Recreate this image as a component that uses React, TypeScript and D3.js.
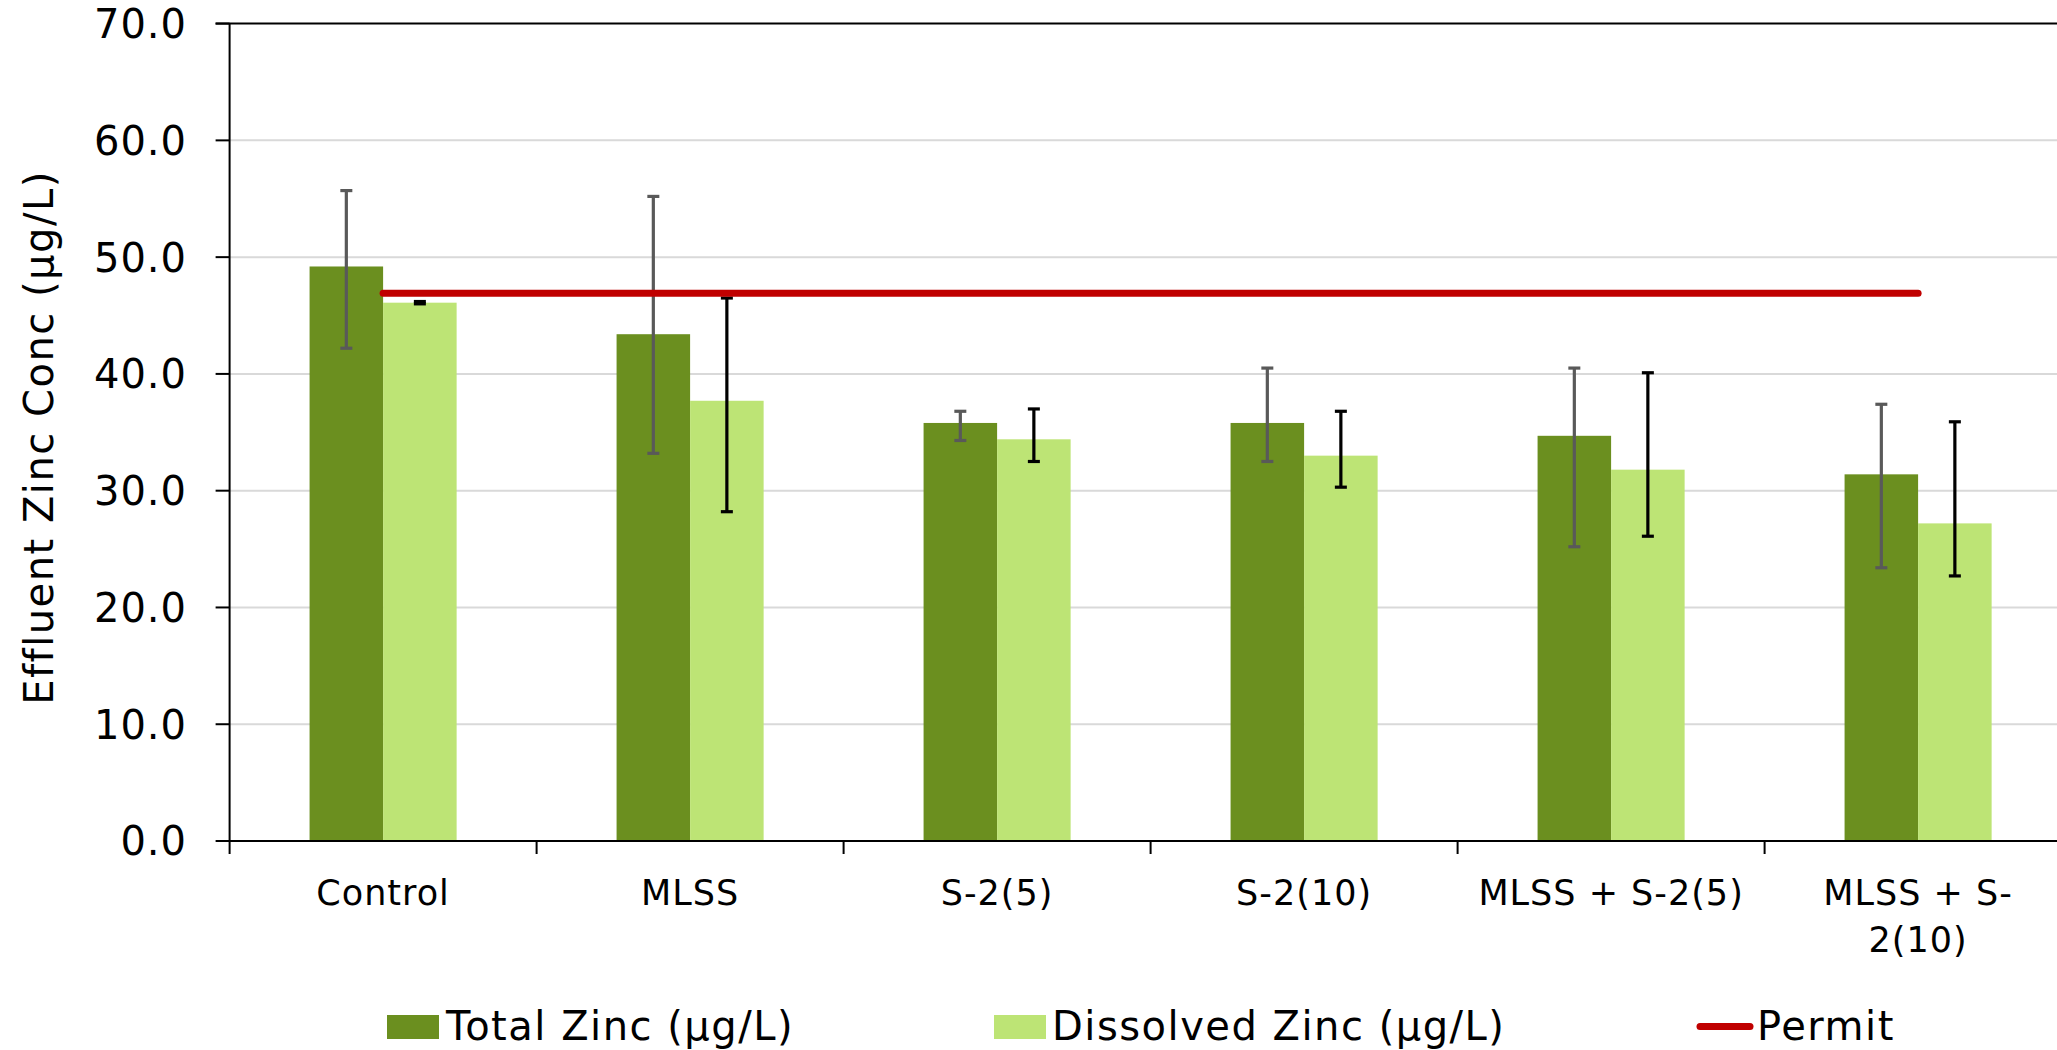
import * as d3 from 'd3';
import React from 'react';

// data
const categories = ['Control', 'MLSS', 'S-2(5)', 'S-2(10)', 'MLSS + S-2(5)', 'MLSS + S-2(10)'];
const categoryLines = [['Control'], ['MLSS'], ['S-2(5)'], ['S-2(10)'], ['MLSS + S-2(5)'], ['MLSS + S-', '2(10)']];

const totalZinc = [49.2, 43.4, 35.8, 35.8, 34.7, 31.4];
const totalHigh = [55.7, 55.2, 36.8, 40.5, 40.5, 37.4];
const totalLow = [42.2, 33.2, 34.3, 32.5, 25.2, 23.4];

const dissolvedZinc = [46.1, 37.7, 34.4, 33.0, 31.8, 27.2];
const dissolvedHigh = [46.2, 46.5, 37.0, 36.8, 40.1, 35.9];
const dissolvedLow = [46.0, 28.2, 32.5, 30.3, 26.1, 22.7];

const permit = [46.9, 46.9, 46.9, 46.9, 46.9, 46.9];

const yTicks = [0, 10, 20, 30, 40, 50, 60, 70];

const W = 2057;
const H = 1050;
const left = 229.6;
const top = 23.6;
const bottom = 841;
const step = 307;

const font = '"DejaVu Sans", Verdana, sans-serif';
const dark = '#6B8F1F';
const light = '#BDE475';
const red = '#C00000';

export default function App() {
  const x = d3.scaleBand()
    .domain(categories)
    .range([left, left + step * categories.length])
    .paddingInner(0.521)
    .paddingOuter(0.2605);
  const sub = d3.scaleBand()
    .domain(['total', 'dissolved'])
    .range([0, x.bandwidth()]);
  const y = d3.scaleLinear().domain([0, 70]).range([bottom, top]);
  const fmt = d3.format('.1f');

  const series = [
    { key: 'total', values: totalZinc, hi: totalHigh, lo: totalLow, fill: dark, err: '#595959' },
    { key: 'dissolved', values: dissolvedZinc, hi: dissolvedHigh, lo: dissolvedLow, fill: light, err: '#000000' },
  ];

  const permitLine = d3.line<number>()
    .x((_, i) => x(categories[i])! + x.bandwidth() / 2)
    .y(d => y(d));

  const boundaries = d3.range(categories.length + 1).map(i => left + i * x.step());

  return (
    <svg width={W} height={H} style={{ position: 'absolute', left: 0, top: 0, display: 'block', background: '#fff' }}
      fontFamily={font}>
      {/* gridlines */}
      {yTicks.filter(t => t > 0 && t < 70).map(t => (
        <line key={t} x1={left} x2={W} y1={y(t)} y2={y(t)} stroke="#D9D9D9" strokeWidth={2} />
      ))}
      <line x1={left - 14} x2={W} y1={y(70)} y2={y(70)} stroke="#000" strokeWidth={2} />

      {/* bars */}
      {series.map(s => (
        <g key={s.key}>
          {s.values.map((v, i) => (
            <rect key={i}
              x={x(categories[i])! + sub(s.key)!}
              y={y(v)}
              width={sub.bandwidth()}
              height={y(0) - y(v)}
              fill={s.fill} />
          ))}
        </g>
      ))}

      {/* error bars */}
      {series.map(s => (
        <g key={s.key + '-err'} stroke={s.err} strokeWidth={3.2}>
          {s.values.map((v, i) => {
            const cx = x(categories[i])! + sub(s.key)! + sub.bandwidth() / 2;
            return (
              <g key={i}>
                <line x1={cx} x2={cx} y1={y(s.hi[i])} y2={y(s.lo[i])} />
                <line x1={cx - 6} x2={cx + 6} y1={y(s.hi[i])} y2={y(s.hi[i])} />
                <line x1={cx - 6} x2={cx + 6} y1={y(s.lo[i])} y2={y(s.lo[i])} />
              </g>
            );
          })}
        </g>
      ))}

      {/* permit */}
      <path d={permitLine(permit)!} fill="none" stroke={red} strokeWidth={7} strokeLinecap="round" />

      {/* y axis */}
      <line x1={left} x2={left} y1={top} y2={bottom} stroke="#000" strokeWidth={2} />
      {yTicks.map(t => (
        <g key={t}>
          <line x1={left - 14} x2={left} y1={y(t)} y2={y(t)} stroke="#000" strokeWidth={2} />
          <text x={187} y={y(t)} dy="0.36em" textAnchor="end" fontSize={40} letterSpacing={1} fill="#000">
            {fmt(t)}
          </text>
        </g>
      ))}
      <text transform={`translate(39,${437.5}) rotate(-90)`} textAnchor="middle" dy="0.36em"
        fontSize={40} letterSpacing={1.5} fill="#000">
        Effluent Zinc Conc (μg/L)
      </text>

      {/* x axis */}
      <line x1={left} x2={W} y1={bottom} y2={bottom} stroke="#000" strokeWidth={2} />
      {boundaries.map((bx, i) => (
        <line key={i} x1={bx} x2={bx} y1={bottom} y2={bottom + 13} stroke="#000" strokeWidth={2} />
      ))}
      {categories.map((c, i) => (
        <text key={c} x={x(c)! + x.bandwidth() / 2} y={905} textAnchor="middle" fontSize={35}
          letterSpacing={1} fill="#000">
          {categoryLines[i].map((ln, j) => (
            <tspan key={j} x={x(c)! + x.bandwidth() / 2} dy={j === 0 ? 0 : 47}>{ln}</tspan>
          ))}
        </text>
      ))}

      {/* legend */}
      <g fontSize={40} letterSpacing={1.5} fill="#000">
        <rect x={387} y={1015} width={52} height={24} fill={dark} />
        <text x={446} y={1040}>Total Zinc (μg/L)</text>
        <rect x={994} y={1015} width={52} height={24} fill={light} />
        <text x={1052} y={1040}>Dissolved Zinc (μg/L)</text>
        <line x1={1700} x2={1750} y1={1026.5} y2={1026.5} stroke={red} strokeWidth={7} strokeLinecap="round" />
        <text x={1757} y={1040}>Permit</text>
      </g>
    </svg>
  );
}
